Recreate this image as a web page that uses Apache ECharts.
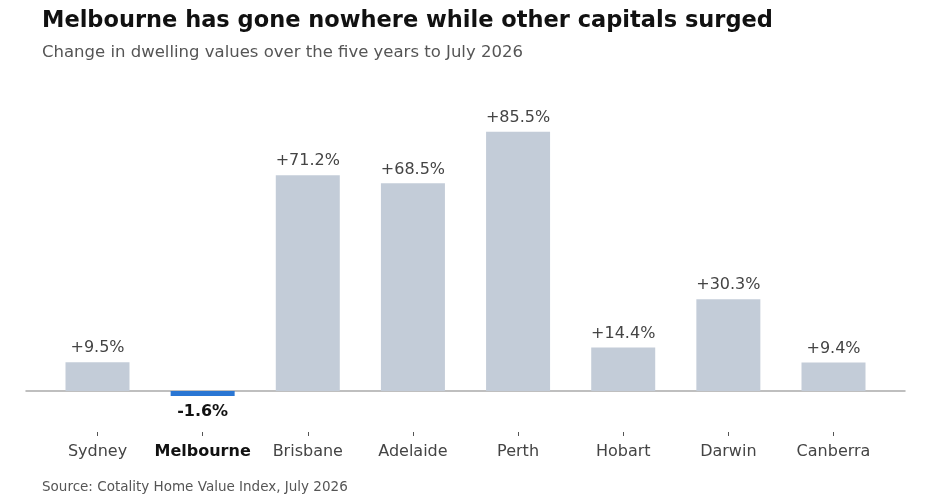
<!DOCTYPE html>
<html>
<head>
<meta charset="utf-8">
<script src="https://cdn.jsdelivr.net/npm/echarts@6/dist/echarts.min.js"></script>
<style>
html,body{margin:0;padding:0;background:#fff;}
#chart{width:930px;height:498px;}
</style>
</head>
<body>
<div id="chart"></div>
<script>
const categories = ['Sydney','Melbourne','Brisbane','Adelaide','Perth','Hobart','Darwin','Canberra'];
const values = [9.5, -1.6, 71.2, 68.5, 85.5, 14.4, 30.3, 9.4];
const highlight = 'Melbourne';
const positions = categories.map((c, i) => i);

const FONT = "'DejaVu Sans', sans-serif";
const chart = echarts.init(document.getElementById('chart'), null, {renderer: 'canvas'});

const barData = values.map((v, i) => {
  const hi = categories[i] === highlight;
  return {
    value: [positions[i], v],
    itemStyle: {color: hi ? '#2a76d3' : '#c3ccd8'},
    label: hi ? {
      position: 'bottom', distance: 8, color: '#111', fontWeight: 'bold'
    } : {}
  };
});

chart.setOption({
  backgroundColor: '#fff',
  animation: false,
  title: [
    {text: 'Melbourne has gone nowhere while other capitals surged', left: 42, top: 10, padding: 0,
     textStyle: {fontFamily: FONT, fontSize: 22.5, fontWeight: 'bold', color: '#111'}},
    {text: 'Change in dwelling values over the five years to July 2026', left: 42, top: 44, padding: 0,
     textStyle: {fontFamily: FONT, fontSize: 16.5, fontWeight: 'normal', color: '#555'}},
    {text: 'Source: Cotality Home Value Index, July 2026', left: 42, top: 480, padding: 0,
     textStyle: {fontFamily: FONT, fontSize: 13.5, fontWeight: 'normal', color: '#555'}}
  ],
  grid: {left: 26, right: 25, top: 93, bottom: 66, containLabel: false},
  xAxis: [
    {
      type: 'value', min: -0.68, max: 7.68,
      axisLine: {show: true, onZero: true, lineStyle: {color: '#aaa', width: 1.5}},
      axisTick: {show: false}, axisLabel: {show: false}, splitLine: {show: false}
    },
    {
      type: 'value', min: -0.68, max: 7.68, position: 'bottom',
      axisLine: {show: false, onZero: false},
      axisTick: {show: true, customValues: positions, length: 4, inside: false,
                 lineStyle: {color: '#555', width: 1}},
      axisLabel: {
        show: true, customValues: positions, margin: 12,
        fontFamily: FONT, fontSize: 16, color: '#444',
        formatter: (v) => {
          const c = categories[Math.round(v)];
          return c === highlight ? '{b|' + c + '}' : c;
        },
        rich: {b: {fontFamily: FONT, fontSize: 16, fontWeight: 'bold', color: '#111'}}
      },
      splitLine: {show: false}
    }
  ],
  yAxis: {
    type: 'value', min: -13.5, max: 98.3, show: false, splitLine: {show: false}
  },
  series: [{
    type: 'bar',
    xAxisIndex: 0,
    barWidth: 64,
    data: barData,
    label: {
      show: true, position: 'top', distance: 6,
      fontFamily: FONT, fontSize: 16, color: '#444',
      formatter: (p) => {
        const v = p.value[1];
        return (v > 0 ? '+' : '') + v.toFixed(1) + '%';
      }
    }
  }]
});
</script>
</body>
</html>
